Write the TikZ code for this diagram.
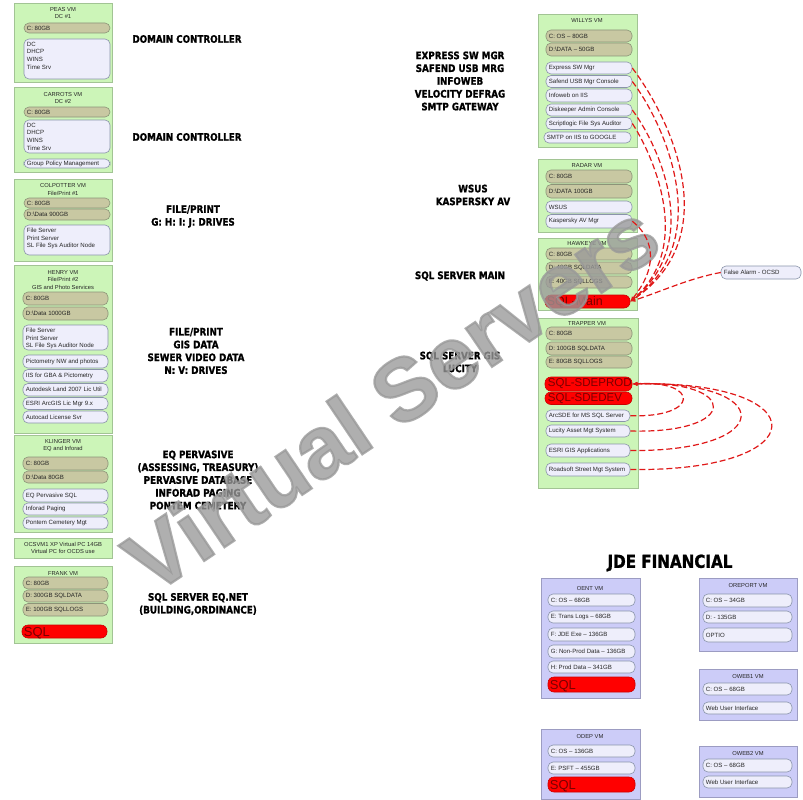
\documentclass[tikz,border=0pt]{standalone}
\usepackage{fontspec}
\setmainfont{Liberation Sans}
\newfontfamily\labfont{DejaVu Sans}[FakeStretch=0.85, BoldFeatures={FakeBold=1.2}]
\newfontfamily\wmfont{Liberation Sans}[BoldFeatures={FakeBold=2.5}]
\usetikzlibrary{arrows.meta}
\definecolor{vmg}{HTML}{CCF5B8}
\definecolor{vmgb}{HTML}{A2C494}
\definecolor{olivef}{HTML}{C8C8A2}
\definecolor{oliveb}{HTML}{8C9478}
\definecolor{litef}{HTML}{EEEEFB}
\definecolor{liteb}{HTML}{8A94AA}
\definecolor{pbf}{HTML}{CCCCF8}
\definecolor{pbb}{HTML}{9C9CC2}
\definecolor{redb}{HTML}{CC0000}
\definecolor{redt}{HTML}{7A0000}
\definecolor{conr}{HTML}{E01818}
\newcommand\vm[6]{\node[#2, minimum width={#5-#3}, minimum height={#6-#4}] (#1) at ({(#3+#5)/2},{(#4+#6)/2}) {};}
\newcommand\pill[7]{\node[#2, minimum width={#5-#3}, minimum height={#6-#4}] (#1) at ({(#3+#5)/2},{(#4+#6)/2}) {};
  \node[#2txt, anchor=west] (#1t) at ([xshift=3pt]#1.west) {#7};}
\newcommand\mpill[7]{\node[#2, minimum width={#5-#3}, minimum height={#6-#4}] (#1) at ({(#3+#5)/2},{(#4+#6)/2}) {};
  \node[#2txt, anchor=north west, align=left] (#1t) at ([xshift=3pt,yshift=-3pt]#1.north west) {#7};}
\tikzset{
  vmbox/.style={rectangle, draw=vmgb, fill=vmg, line width=0.7pt, inner sep=0pt},
  pbox/.style={rectangle, draw=pbb, fill=pbf, line width=0.7pt, inner sep=0pt},
  olive/.style={rectangle, rounded corners=5pt, draw=oliveb, fill=olivef, line width=0.6pt, inner sep=0pt},
  lite/.style={rectangle, rounded corners=5pt, draw=liteb, fill=litef, line width=0.6pt, inner sep=0pt},
  redp/.style={rectangle, rounded corners=6pt, draw=redb, fill=red, line width=0.6pt, inner sep=0pt},
  olivetxt/.style={font=\fontsize{6.1}{7.7}\selectfont, inner sep=0pt, text=black!85},
  litetxt/.style={font=\fontsize{6.1}{7.7}\selectfont, inner sep=0pt, text=black!85},
  redptxt/.style={font=\fontsize{11.5}{12}\selectfont, inner sep=0pt, text=redt},
  ttl/.style={font=\fontsize{5.8}{7.2}\selectfont, align=center, inner sep=0pt, text=black!85},
  lab/.style={font=\labfont\bfseries\fontsize{10.3}{12.8}\selectfont, align=center, inner sep=0pt},
  con/.style={draw=conr, dash pattern=on 6pt off 3pt, line width=1.2pt},
  tip/.style={-{Latex[length=5pt,width=4pt]}}
}
\begin{document}
\begin{tikzpicture}[x=1pt,y=-1pt]
\fill[white] (0,0) rectangle (803,800);
\useasboundingbox (0,0) rectangle (803,800);
% ---------------- left column
\vm{peas}{vmbox}{14}{3}{112}{82}
\node[ttl] (peast) at (63,13) {PEAS VM\\DC \#1};
\pill{peasc}{olive}{24}{23}{110}{33}{C: 80GB}
\mpill{peass}{lite}{24}{39}{110}{79}{DC\\DHCP\\WINS\\Time Srv}

\vm{car}{vmbox}{14}{87}{112}{172}
\node[ttl] (cart) at (63,98) {CARROTS VM\\DC \#2};
\pill{carc}{olive}{24}{107}{110}{117}{C: 80GB}
\mpill{cars}{lite}{24}{120}{110}{153}{DC\\DHCP\\WINS\\Time Srv}
\pill{carg}{lite}{24}{159}{110}{168}{Group Policy Management}

\vm{col}{vmbox}{14}{179}{112}{261}
\node[ttl] (colt) at (63,189.5) {COLPOTTER VM\\File/Print \#1};
\pill{colc}{olive}{24}{198}{110}{208}{C: 80GB}
\pill{cold}{olive}{24}{209}{110}{220}{D:\textbackslash Data 900GB}
\mpill{cols}{lite}{24}{225}{110}{255}{File Server\\Print Server\\SL File Sys Auditor Node}

\vm{hen}{vmbox}{14}{265}{112}{433}
\node[ttl] (hent) at (63,280) {HENRY VM\\File/Print \#2\\GIS  and Photo Services};
\pill{henc}{olive}{23}{292}{108}{305}{C: 80GB}
\pill{hend}{olive}{23}{307}{108}{320}{D:\textbackslash Data 1000GB}
\mpill{hens}{lite}{23}{325}{108}{350}{File Server\\Print Server\\SL File Sys Auditor Node}
\pill{hen1}{lite}{23}{355}{108}{368}{Pictometry NW and photos}
\pill{hen2}{lite}{23}{369.5}{108}{382}{IIS for GBA \& Pictometry}
\pill{hen3}{lite}{23}{383.5}{108}{396}{Autodesk Land 2007 Lic Util}
\pill{hen4}{lite}{23}{397.5}{108}{409.5}{ESRI ArcGIS Lic Mgr 9.x}
\pill{hen5}{lite}{23}{411}{108}{423}{Autocad License Svr}

\vm{kli}{vmbox}{14}{435}{112}{532}
\node[ttl] (klit) at (63,445.5) {KLINGER VM\\EQ and Inforad};
\pill{klic}{olive}{23}{457}{108}{470}{C: 80GB}
\pill{klid}{olive}{23}{471}{108}{483}{D:\textbackslash Data 80GB}
\pill{kli1}{lite}{23}{489}{108}{502}{EQ Pervasive SQL}
\pill{kli2}{lite}{23}{503}{108}{515}{Inforad Paging}
\pill{kli3}{lite}{23}{517}{108}{529}{Pontem Cemetery Mgt}

\vm{ocs}{vmbox}{14}{538}{112}{558}
\node[ttl] (ocst) at (63,548) {OCSVM1 XP Virtual PC 14GB\\Virtual PC for OCDS use};

\vm{fra}{vmbox}{14}{566}{112}{643}
\node[ttl] (frat) at (63,573) {FRANK VM};
\pill{frac}{olive}{23}{577}{108}{589}{C: 80GB}
\pill{frad}{olive}{23}{590}{108}{602}{D: 300GB SQLDATA}
\pill{frae}{olive}{23}{603.5}{108}{616}{E: 100GB SQLLOGS}
\node[redp, minimum width=85, minimum height=13] (frasql) at (64.5,631.5) {};
\node[redptxt, font=\fontsize{13}{13}\selectfont, anchor=west] (frasqlt) at ([xshift=2pt,yshift=-1.5pt]frasql.west) {SQL};

% ---------------- middle labels
\node[lab] (l1) at (187,39) {DOMAIN CONTROLLER};
\node[lab] (l2) at (187,137) {DOMAIN CONTROLLER};
\node[lab] (l3) at (193,216.5) {FILE/PRINT\\G: H: I: J: DRIVES};
\node[lab] (l4) at (196,351) {FILE/PRINT\\GIS DATA\\SEWER VIDEO DATA\\N: V: DRIVES};
\node[lab] (l5) at (198,480) {EQ PERVASIVE\\(ASSESSING, TREASURY)\\PERVASIVE DATABASE\\INFORAD PAGING\\PONTEM CEMETERY};
\node[lab] (l6) at (198,604) {SQL SERVER EQ.NET\\(BUILDING,ORDINANCE)};
\node[lab] (l7) at (460,81) {EXPRESS SW MGR\\SAFEND USB MRG\\INFOWEB\\VELOCITY DEFRAG\\SMTP GATEWAY};
\node[lab] (l8) at (473,195) {WSUS\\KASPERSKY AV};
\node[lab] (l9) at (460,276) {SQL SERVER MAIN};
\node[lab] (l10) at (460,362) {SQL SERVER GIS\\LUCITY};
\node[lab, font=\labfont\bfseries\fontsize{17.8}{17.8}\selectfont] (l11) at (670,563) {JDE FINANCIAL};

% ---------------- right column
\vm{wil}{vmbox}{538}{14}{637}{147}
\node[ttl] (wilt) at (587,21) {WILLYS VM};
\pill{wilc}{olive}{546}{30}{632}{42}{C: OS -- 80GB}
\pill{wild}{olive}{546}{43}{632}{56}{D:\textbackslash DATA -- 50GB}
\pill{wil1}{lite}{546}{62}{632}{74}{Express SW Mgr}
\pill{wil2}{lite}{546}{75.5}{632}{87.5}{Safend USB Mgr Console}
\pill{wil3}{lite}{546}{89}{632}{102}{Infoweb on IIS}
\pill{wil4}{lite}{546}{104}{632}{116}{Diskeeper Admin Console}
\pill{wil5}{lite}{546}{117.5}{632}{129.5}{Scriptlogic File Sys Auditor}
\pill{wil6}{lite}{544}{132}{631}{143}{SMTP on IIS to GOOGLE}

\vm{rad}{vmbox}{538}{159}{637}{232}
\node[ttl] (radt) at (587,166) {RADAR VM};
\pill{radc}{olive}{546}{170}{632}{183}{C: 80GB}
\pill{radd}{olive}{546}{184.5}{632}{198}{D:\textbackslash DATA 100GB}
\pill{rad1}{lite}{546}{201}{632}{213}{WSUS}
\pill{rad2}{lite}{546}{214.5}{632}{228}{Kaspersky AV Mgr}

\vm{haw}{vmbox}{538}{238}{637}{310}
\node[ttl] (hawt) at (587,244) {HAWKEYE VM};
\pill{hawc}{olive}{546}{248}{632}{260}{C: 80GB}
\pill{hawd}{olive}{546}{262}{632}{274}{D: 40GB SQLDATA}
\pill{hawe}{olive}{546}{276}{632}{288}{E: 40GB SQLLOGS}
\node[redp, minimum width=85, minimum height=13] (hawsql) at (587.5,301.5) {};
\node[redptxt, font=\fontsize{12.4}{12.4}\selectfont, anchor=west] (hawsqlt) at ([xshift=2pt,yshift=-1pt]hawsql.west) {SQL-Main};

\vm{tra}{vmbox}{538}{318}{638}{488}
\node[ttl] (trat) at (587,324) {TRAPPER VM};
\pill{trac}{olive}{546}{327}{632}{340}{C: 80GB}
\pill{trad}{olive}{546}{342}{632}{355}{D: 100GB SQLDATA}
\pill{trae}{olive}{546}{356}{632}{368}{E: 80GB SQLLOGS}
\pill{traprod}{redp}{545}{377}{632}{391}{SQL-SDEPROD}
\pill{tradev}{redp}{545}{392}{632}{404.5}{SQL-SDEDEV}
\pill{tra1}{lite}{546}{410}{630}{421.5}{ArcSDE for MS SQL Server}
\pill{tra2}{lite}{546}{425}{630}{437}{Lucity Asset Mgt System}
\pill{tra3}{lite}{546}{444}{630}{457}{ESRI GIS Applications}
\pill{tra4}{lite}{546}{463}{630}{476}{Roadsoft Street Mgt System}

\pill{fa}{lite}{721}{266}{801}{279}{False Alarm - OCSD}

% ---------------- JDE
\vm{oent}{pbox}{541}{578}{640}{698}
\node[ttl] (oentt) at (590,588) {OENT VM};
\pill{oent1}{lite}{548}{594}{635}{606}{C: OS -- 68GB}
\pill{oent2}{lite}{548}{611}{635}{623}{E: Trans Logs -- 68GB}
\pill{oent3}{lite}{548}{628}{635}{641}{F: JDE Exe -- 136GB}
\pill{oent4}{lite}{548}{645}{635}{658}{G: Non-Prod Data -- 136GB}
\pill{oent5}{lite}{548}{661}{635}{673}{H: Prod Data -- 341GB}
\node[redp, minimum width=87, minimum height=15] (oentsql) at (591.5,684.5) {};
\node[redptxt, font=\fontsize{13}{13}\selectfont, anchor=west] (oentsqlt) at ([xshift=2pt,yshift=-1.5pt]oentsql.west) {SQL};

\vm{orep}{pbox}{699}{578}{797}{651}
\node[ttl] (orept) at (748,585) {OREPORT VM};
\pill{orep1}{lite}{703}{594}{792}{607}{C: OS -- 34GB}
\pill{orep2}{lite}{703}{611}{792}{623}{D: - 135GB}
\pill{orep3}{lite}{703}{628}{792}{642}{OPTIO}

\vm{ow1}{pbox}{699}{669}{797}{720}
\node[ttl] (ow1t) at (748,676) {OWEB1 VM};
\pill{ow11}{lite}{703}{683}{792}{695}{C: OS -- 68GB}
\pill{ow12}{lite}{703}{702}{792}{714}{Web User Interface}

\vm{odep}{pbox}{541}{729}{640}{799}
\node[ttl] (odept) at (590,736) {ODEP VM};
\pill{odep1}{lite}{548}{745}{635}{757}{C: OS -- 136GB}
\pill{odep2}{lite}{548}{762}{635}{774}{E: PSFT -- 455GB}
\node[redp, minimum width=87, minimum height=15] (odepsql) at (591.5,784.5) {};
\node[redptxt, font=\fontsize{13}{13}\selectfont, anchor=west] (odepsqlt) at ([xshift=2pt,yshift=-1.5pt]odepsql.west) {SQL};

\vm{ow2}{pbox}{699}{746}{797}{797}
\node[ttl] (ow2t) at (748,753) {OWEB2 VM};
\pill{ow21}{lite}{703}{759}{792}{772}{C: OS -- 68GB}
\pill{ow22}{lite}{703}{776}{792}{788}{Web User Interface}

% ---------------- watermark
\node[text=gray!80, opacity=0.78, rotate=34, inner sep=0pt, font=\wmfont\bfseries\fontsize{88}{88}\selectfont] (wm) at (391,397) {Virtual Servers};

% ---------------- connectors
\draw[con,tip] (wil1.east) .. controls (668,115) and (728,235) .. (hawsql.east);
\draw[con,tip] (wil2.east) .. controls (662,120) and (718,238) .. (hawsql.east);
\draw[con,tip] (wil4.east) .. controls (655,140) and (706,240) .. (hawsql.east);
\draw[con,tip] (wil5.east) .. controls (650,150) and (696,245) .. (hawsql.east);
\draw[con,tip] (rad2.east) .. controls (650,235) and (662,262) .. (hawsql.east);
\draw[con,tip] (fa.west) .. controls (690,278) and (660,292) .. (hawsql.east);

\draw[con,tip] (tra1.east) .. controls (700,418) and (700,380) .. (traprod.east);
\draw[con,tip] (tra2.east) .. controls (740,434) and (740,380) .. (traprod.east);
\draw[con,tip] (tra3.east) .. controls (777,452) and (777,380) .. (traprod.east);
\draw[con,tip] (tra4.east) .. controls (818,472) and (818,380) .. (traprod.east);
\end{tikzpicture}
\end{document}
